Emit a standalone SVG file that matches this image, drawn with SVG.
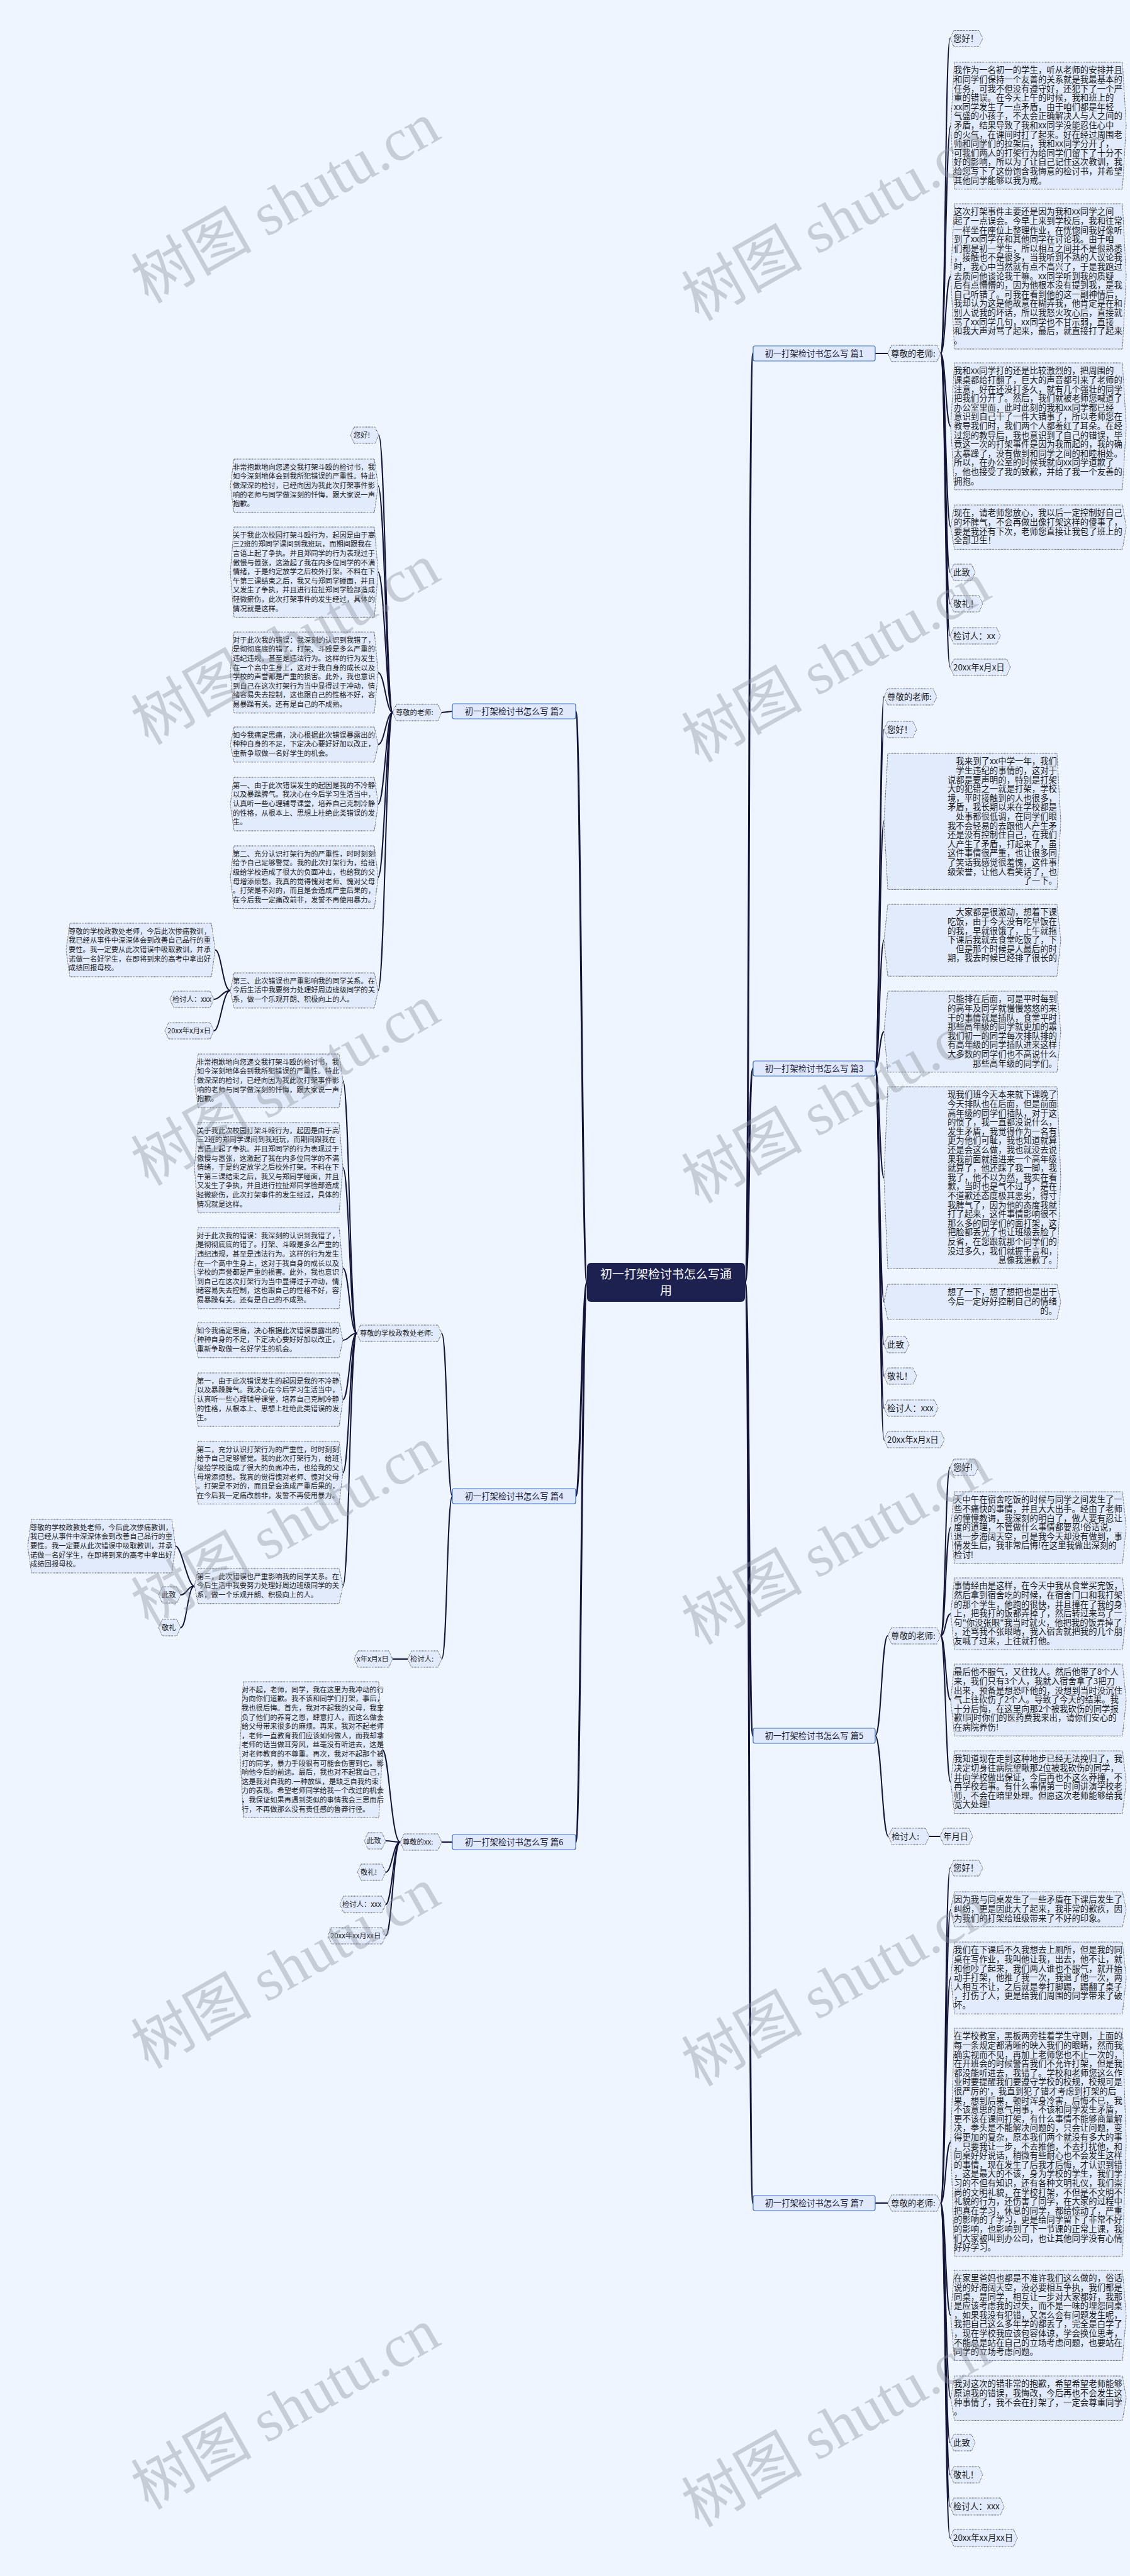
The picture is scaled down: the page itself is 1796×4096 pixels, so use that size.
<svg xmlns="http://www.w3.org/2000/svg" width="1796" height="4096" viewBox="0 0 1796 4096">
<style>
.hx{fill:#e1ebfc;stroke:#333;stroke-width:0.9;stroke-dasharray:1.2 1.2}
.t{font-family:"Noto Sans CJK SC","Noto Sans",sans-serif;font-size:11.3px;fill:#222}
.tr{font-family:"Noto Sans CJK SC","Noto Sans",sans-serif;font-size:13.4px;fill:#1c1c1c}
.ln{fill:none;stroke:#14143a;stroke-width:2;stroke-linecap:round}
.lr{fill:none;stroke:#14143a;stroke-width:3;stroke-linecap:round}
.br{fill:#dfe9fb;stroke:#3b72c6;stroke-width:1.2}
.bt{font-family:"Noto Sans CJK SC","Noto Sans",sans-serif;font-size:13.3px;fill:#1a1a3a}
.wm{font-family:"Liberation Serif","Noto Sans CJK SC",serif;font-size:96px;fill:#8d939c;opacity:0.4}
</style>
<rect width="1796" height="4096" fill="#eef5fe"/>

<g id="connectors">
<path class="lr" d="M1184,2039 C1192,2039 1189,562 1197,562"/>
<path class="lr" d="M1184,2039 C1192,2039 1189,1699 1197,1699"/>
<path class="lr" d="M1184,2039 C1192,2039 1189,2760 1197,2760"/>
<path class="lr" d="M1184,2039 C1192,2039 1189,3503 1197,3503"/>
<path class="lr" d="M933,2039 C925,2039 923,1131 915,1131"/>
<path class="lr" d="M933,2039 C925,2039 923,2379 915,2379"/>
<path class="lr" d="M933,2039 C925,2039 923,2929 915,2929"/>
<path class="ln" d="M1391,562 L1411,562"/>
<path class="ln" d="M1495,562 C1503,562 1502,61 1510,61"/>
<path class="ln" d="M1495,562 C1503,562 1503,199.9 1511,199.9"/>
<path class="ln" d="M1495,562 C1503,562 1503,439.5 1511,439.5"/>
<path class="ln" d="M1495,562 C1503,562 1503,677.9 1511,677.9"/>
<path class="ln" d="M1495,562 C1503,562 1503,838.2 1511,838.2"/>
<path class="ln" d="M1495,562 C1503,562 1502,910 1510,910"/>
<path class="ln" d="M1495,562 C1503,562 1502,960 1510,960"/>
<path class="ln" d="M1495,562 C1503,562 1502,1011 1510,1011"/>
<path class="ln" d="M1495,562 C1503,562 1502,1061 1510,1061"/>
<path class="ln" d="M1391,1699 C1398,1699 1398,1108 1405,1108"/>
<path class="ln" d="M1391,1699 C1398,1699 1398,1160 1405,1160"/>
<path class="ln" d="M1391,1699 C1398,1699 1398,1306.2 1405,1306.2"/>
<path class="ln" d="M1391,1699 C1398,1699 1398,1495.1 1405,1495.1"/>
<path class="ln" d="M1391,1699 C1398,1699 1398,1640.4 1405,1640.4"/>
<path class="ln" d="M1391,1699 C1398,1699 1398,1872.7 1405,1872.7"/>
<path class="ln" d="M1391,1699 C1398,1699 1398,2069.9 1405,2069.9"/>
<path class="ln" d="M1391,1699 C1398,1699 1398,2138 1405,2138"/>
<path class="ln" d="M1391,1699 C1398,1699 1398,2188 1405,2188"/>
<path class="ln" d="M1391,1699 C1398,1699 1398,2239 1405,2239"/>
<path class="ln" d="M1391,1699 C1398,1699 1398,2289 1405,2289"/>
<path class="ln" d="M1391,2760 C1401,2760 1401,2601 1411,2601"/>
<path class="ln" d="M1391,2760 C1401,2760 1402,2920 1412,2920"/>
<path class="ln" d="M1495,2601 C1503,2601 1502,2333 1510,2333"/>
<path class="ln" d="M1495,2601 C1503,2601 1503,2429 1511,2429"/>
<path class="ln" d="M1495,2601 C1503,2601 1503,2566 1511,2566"/>
<path class="ln" d="M1495,2601 C1503,2601 1503,2703 1511,2703"/>
<path class="ln" d="M1495,2601 C1503,2601 1503,2833.8 1511,2833.8"/>
<path class="ln" d="M1477,2920 L1494,2920"/>
<path class="ln" d="M1391,3503 L1411,3503"/>
<path class="ln" d="M1495,3503 C1503,3503 1502,2970.5 1510,2970.5"/>
<path class="ln" d="M1495,3503 C1503,3503 1503,3035.9 1511,3035.9"/>
<path class="ln" d="M1495,3503 C1503,3503 1503,3145 1511,3145"/>
<path class="ln" d="M1495,3503 C1503,3503 1503,3406 1511,3406"/>
<path class="ln" d="M1495,3503 C1503,3503 1503,3681.7 1511,3681.7"/>
<path class="ln" d="M1495,3503 C1503,3503 1503,3813 1511,3813"/>
<path class="ln" d="M1495,3503 C1503,3503 1502,3884 1510,3884"/>
<path class="ln" d="M1495,3503 C1503,3503 1502,3935 1510,3935"/>
<path class="ln" d="M1495,3503 C1503,3503 1502,3985.5 1510,3985.5"/>
<path class="ln" d="M1495,3503 C1503,3503 1502,4035.5 1510,4035.5"/>
<path class="ln" d="M719,1131 L702,1133"/>
<path class="ln" d="M624,1133 C614,1133 612,692 602,692"/>
<path class="ln" d="M624,1133 C614,1133 611,772.5 601,772.5"/>
<path class="ln" d="M624,1133 C614,1133 611,909.7 601,909.7"/>
<path class="ln" d="M624,1133 C614,1133 611,1069.4 601,1069.4"/>
<path class="ln" d="M624,1133 C614,1133 611,1183.9 601,1183.9"/>
<path class="ln" d="M624,1133 C614,1133 611,1278.5 601,1278.5"/>
<path class="ln" d="M624,1133 C614,1133 611,1394.8 601,1394.8"/>
<path class="ln" d="M624,1133 C614,1133 611,1574.9 601,1574.9"/>
<path class="ln" d="M366,1575 C354,1575 352,1510.5 342,1510.5"/>
<path class="ln" d="M366,1575 C354,1575 350,1589 340,1589"/>
<path class="ln" d="M366,1575 C354,1575 350,1639 340,1639"/>
<path class="ln" d="M719,2379 C710,2379 711,2120 702,2120"/>
<path class="ln" d="M719,2379 C710,2379 711,2638 702,2638"/>
<path class="ln" d="M567,2120 C556,2120 555,1718.5 545,1718.5"/>
<path class="ln" d="M567,2120 C556,2120 555,1856.7 545,1856.7"/>
<path class="ln" d="M567,2120 C556,2120 555,2016.4 545,2016.4"/>
<path class="ln" d="M567,2120 C556,2120 555,2130.9 545,2130.9"/>
<path class="ln" d="M567,2120 C556,2120 555,2225.5 545,2225.5"/>
<path class="ln" d="M567,2120 C556,2120 555,2341.8 545,2341.8"/>
<path class="ln" d="M567,2120 C556,2120 555,2521.9 545,2521.9"/>
<path class="ln" d="M309,2522 C298,2522 289,2458.5 279,2458.5"/>
<path class="ln" d="M309,2522 C298,2522 297,2536 287,2536"/>
<path class="ln" d="M309,2522 C298,2522 297,2588 287,2588"/>
<path class="ln" d="M648,2638 L624,2638"/>
<path class="ln" d="M719,2929 L702,2929"/>
<path class="ln" d="M636,2929 C622,2929 618,2782.2 608,2782.2"/>
<path class="ln" d="M636,2929 C625,2929 623,2927 613,2927"/>
<path class="ln" d="M636,2929 C625,2929 623,2977 613,2977"/>
<path class="ln" d="M636,2929 C625,2929 623,3028 613,3028"/>
<path class="ln" d="M636,2929 C625,2929 623,3078 613,3078"/>
</g>

<g id="root">
<rect x="933" y="2008" width="251" height="62" rx="6" fill="#1d2150"/>
<text x="1058.5" y="2033" text-anchor="middle" font-family="Noto Sans CJK SC, sans-serif" font-size="19" fill="#fff">初一打架检讨书怎么写通</text>
<text x="1058.5" y="2059" text-anchor="middle" font-family="Noto Sans CJK SC, sans-serif" font-size="19" fill="#fff">用</text>
</g>

<g id="b1"><rect class="br" x="1197" y="550" width="194" height="24" rx="3"/><text class="bt" x="1294" y="567" text-anchor="middle">初一打架检讨书怎么写 篇1</text></g>
<g id="b3"><rect class="br" x="1197" y="1687" width="194" height="24" rx="3"/><text class="bt" x="1294" y="1704" text-anchor="middle">初一打架检讨书怎么写 篇3</text></g>
<g id="b5"><rect class="br" x="1197" y="2748" width="194" height="24" rx="3"/><text class="bt" x="1294" y="2765" text-anchor="middle">初一打架检讨书怎么写 篇5</text></g>
<g id="b7"><rect class="br" x="1197" y="3491" width="194" height="24" rx="3"/><text class="bt" x="1294" y="3508" text-anchor="middle">初一打架检讨书怎么写 篇7</text></g>
<g id="b2"><rect class="br" x="719" y="1119" width="196" height="24" rx="3"/><text class="bt" x="817" y="1136" text-anchor="middle">初一打架检讨书怎么写 篇2</text></g>
<g id="b4"><rect class="br" x="719" y="2367" width="196" height="24" rx="3"/><text class="bt" x="817" y="2384" text-anchor="middle">初一打架检讨书怎么写 篇4</text></g>
<g id="b6"><rect class="br" x="719" y="2917" width="196" height="24" rx="3"/><text class="bt" x="817" y="2934" text-anchor="middle">初一打架检讨书怎么写 篇6</text></g>

<!-- 篇1 -->
<g id="p1-dear"><path class="hx" d="M1417,549H1489L1495,562L1489,575H1417L1411,562Z"/><text class="tr" x="1416" y="566.7">尊敬的老师:</text></g>
<g id="p1-hi"><path class="hx" d="M1516,48.5H1556L1562,61L1556,73.5H1516L1510,61Z"/><text class="tr" x="1515" y="65.7">您好！</text></g>
<g id="p1-a"><path class="hx" d="M1517,99H1784L1790,199.9L1784,300.8H1517L1511,199.9Z"/>
<text class="tr" y="116.3"><tspan x="1516">我作为一名初一的学生，听从老师的安排并且</tspan><tspan x="1516" dy="14.6">和同学们保持一个友善的关系就是我最基本的</tspan><tspan x="1516" dy="14.6">任务，可我不但没有遵守好，还犯下了一个严</tspan><tspan x="1516" dy="14.6">重的错误。在今天上午的时候，我和班上的</tspan><tspan x="1516" dy="14.6">xx同学发生了一点矛盾，由于咱们都是年轻</tspan><tspan x="1516" dy="14.6">气盛的小孩子，不太会正确解决人与人之间的</tspan><tspan x="1516" dy="14.6">矛盾，结果导致了我和xx同学没能忍住心中</tspan><tspan x="1516" dy="14.6">的火气，在课间时打了起来。好在经过周围老</tspan><tspan x="1516" dy="14.6">师和同学们的拉架后，我和xx同学分开了，</tspan><tspan x="1516" dy="14.6">可我们两人的打架行为给同学们留下了十分不</tspan><tspan x="1516" dy="14.6">好的影响，所以为了让自己记住这次教训，我</tspan><tspan x="1516" dy="14.6">给您写下了这份饱含我悔意的检讨书，并希望</tspan><tspan x="1516" dy="14.6">其他同学能够以我为戒。</tspan></text></g>
<g id="p1-b"><path class="hx" d="M1517,324H1784L1790,439.5L1784,555H1517L1511,439.5Z"/>
<text class="tr" y="341.3"><tspan x="1516">这次打架事件主要还是因为我和xx同学之间</tspan><tspan x="1516" dy="14.6">起了一点误会。今早上来到学校后，我和往常</tspan><tspan x="1516" dy="14.6">一样坐在座位上整理作业，在恍惚间我好像听</tspan><tspan x="1516" dy="14.6">到了xx同学在和其他同学在讨论我。由于咱</tspan><tspan x="1516" dy="14.6">们都是初一学生，所以相互之间并不是很熟悉</tspan><tspan x="1516" dy="14.6">，接触也不是很多，当我听到不熟的人议论我</tspan><tspan x="1516" dy="14.6">时，我心中当然就有点不高兴了，于是我跑过</tspan><tspan x="1516" dy="14.6">去质问他谈论我干嘛。xx同学听到我的质疑</tspan><tspan x="1516" dy="14.6">后有点懵懵的，因为他根本没有提到我，是我</tspan><tspan x="1516" dy="14.6">自己听错了。可我在看到他的这一副神情后，</tspan><tspan x="1516" dy="14.6">我却认为这是他故意在糊弄我，他肯定是在和</tspan><tspan x="1516" dy="14.6">别人说我的坏话，所以我怒火攻心后，直接就</tspan><tspan x="1516" dy="14.6">骂了xx同学几句，xx同学也不甘示弱，直接</tspan><tspan x="1516" dy="14.6">和我大声对骂了起来，最后，就直接打了起来</tspan><tspan x="1516" dy="14.6">。</tspan></text></g>
<g id="p1-c"><path class="hx" d="M1517,577H1784L1790,677.9L1784,778.8H1517L1511,677.9Z"/>
<text class="tr" y="594.3"><tspan x="1516">我和xx同学打的还是比较激烈的，把周围的</tspan><tspan x="1516" dy="14.6">课桌都给打翻了，巨大的声音都引来了老师的</tspan><tspan x="1516" dy="14.6">注意，好在还没打多久，就有几个强壮的同学</tspan><tspan x="1516" dy="14.6">把我们分开了。然后，我们就被老师您喊道了</tspan><tspan x="1516" dy="14.6">办公室里面，此时此刻的我和xx同学都已经</tspan><tspan x="1516" dy="14.6">意识到自己干了一件大错事了，所以老师您在</tspan><tspan x="1516" dy="14.6">教导我们时，我们两个人都羞红了耳朵。在经</tspan><tspan x="1516" dy="14.6">过您的教导后，我也意识到了自己的错误，毕</tspan><tspan x="1516" dy="14.6">竟这一次的打架事件是因为我而起的，我的确</tspan><tspan x="1516" dy="14.6">太暴躁了，没有做到和同学之间的和睦相处。</tspan><tspan x="1516" dy="14.6">所以，在办公室的时候我就向xx同学道歉了</tspan><tspan x="1516" dy="14.6">，他也接受了我的致歉，并给了我一个友善的</tspan><tspan x="1516" dy="14.6">拥抱。</tspan></text></g>
<g id="p1-d"><path class="hx" d="M1517,803H1784L1790,838.2L1784,873.4H1517L1511,838.2Z"/>
<text class="tr" y="820.3"><tspan x="1516">现在，请老师您放心，我以后一定控制好自己</tspan><tspan x="1516" dy="14.6">的坏脾气，不会再做出像打架这样的傻事了，</tspan><tspan x="1516" dy="14.6">要是我还有下次，老师您直接让我包了班上的</tspan><tspan x="1516" dy="14.6">全部卫生！</tspan></text></g>
<g id="p1-e"><path class="hx" d="M1516,897H1544L1550,910L1544,923H1516L1510,910Z"/><text class="tr" x="1515" y="914.7">此致</text></g>
<g id="p1-f"><path class="hx" d="M1516,947H1556L1562,960L1556,973H1516L1510,960Z"/><text class="tr" x="1515" y="964.7">敬礼！</text></g>
<g id="p1-g"><path class="hx" d="M1516,998H1584L1590,1011L1584,1024H1516L1510,1011Z"/><text class="tr" x="1515" y="1015.7">检讨人：xx</text></g>
<g id="p1-h"><path class="hx" d="M1516,1048H1600L1606,1061L1600,1074H1516L1510,1061Z"/><text class="tr" x="1515" y="1065.7">20xx年x月x日</text></g>

<!-- 篇3 -->
<g id="p3-dear"><path class="hx" d="M1411,1095H1483L1489,1108L1483,1121H1411L1405,1108Z"/><text class="tr" x="1410" y="1112.7">尊敬的老师:</text></g>
<g id="p3-hi"><path class="hx" d="M1411,1147H1451L1457,1160L1451,1173H1411L1405,1160Z"/><text class="tr" x="1410" y="1164.7">您好！</text></g>
<g id="p3-a"><path class="hx" d="M1411,1198H1680L1686,1306.2L1680,1414.4H1411L1405,1306.2Z"/>
<text class="tr" y="1215.3" text-anchor="end"><tspan x="1680">我来到了xx中学一年，我们</tspan><tspan x="1680" dy="14.6">学生违纪的事情的，这对于</tspan><tspan x="1680" dy="14.6">说都是要声明的，特别是打架</tspan><tspan x="1680" dy="14.6">大的犯错之一就是打架，学校</tspan><tspan x="1680" dy="14.6">境，平时接触到的人也很多，</tspan><tspan x="1680" dy="14.6">矛盾，我长期以来在学校都是</tspan><tspan x="1680" dy="14.6">处事都很低调，在同学们眼</tspan><tspan x="1680" dy="14.6">我不会轻易的去跟他人产生矛</tspan><tspan x="1680" dy="14.6">还是没有控制住自己，在我们</tspan><tspan x="1680" dy="14.6">人产生了矛盾，打起来了，虽</tspan><tspan x="1680" dy="14.6">这件事情很严重，也让很多同</tspan><tspan x="1680" dy="14.6">了笑话我感觉很羞愧，这件事</tspan><tspan x="1680" dy="14.6">级荣誉，让他人看笑话了，也</tspan><tspan x="1680" dy="14.6">了一下。</tspan></text></g>
<g id="p3-b"><path class="hx" d="M1411,1438H1680L1686,1495.1L1680,1552.2H1411L1405,1495.1Z"/>
<text class="tr" y="1455.3" text-anchor="end"><tspan x="1680">大家都是很激动，想着下课</tspan><tspan x="1680" dy="14.6">吃饭，由于今天没有吃早饭在</tspan><tspan x="1680" dy="14.6">的我，早就很饿了，上午就拖</tspan><tspan x="1680" dy="14.6">下课后我就去食堂吃饭了，下</tspan><tspan x="1680" dy="14.6">但是那个时候是人最后的时</tspan><tspan x="1680" dy="14.6">期，我去时候已经排了很长的</tspan></text></g>
<g id="p3-c"><path class="hx" d="M1411,1576H1680L1686,1640.4L1680,1704.8H1411L1405,1640.4Z"/>
<text class="tr" y="1593.3" text-anchor="end"><tspan x="1680">只能排在后面，可是平时每到</tspan><tspan x="1680" dy="14.6">的高年及同学就慢慢悠悠的来</tspan><tspan x="1680" dy="14.6">干的事情就是插队，食堂平时</tspan><tspan x="1680" dy="14.6">那些高年级的同学就更加的嚣</tspan><tspan x="1680" dy="14.6">我们初一的同学每次排队排的</tspan><tspan x="1680" dy="14.6">有高年级的同学插队进来这样</tspan><tspan x="1680" dy="14.6">大多数的同学们也不高说什么</tspan><tspan x="1680" dy="14.6">那些高年级的同学们。</tspan></text></g>
<g id="p3-d"><path class="hx" d="M1411,1728H1680L1686,1872.7L1680,2017.4H1411L1405,1872.7Z"/>
<text class="tr" y="1745.3" text-anchor="end"><tspan x="1680">现我们班今天本来就下课晚了</tspan><tspan x="1680" dy="14.6">今天排队也在后面，但是前面</tspan><tspan x="1680" dy="14.6">高年级的同学们插队，对于这</tspan><tspan x="1680" dy="14.6">的惯了，我一直都没说什么，</tspan><tspan x="1680" dy="14.6">发生矛盾，我觉得作为一名有</tspan><tspan x="1680" dy="14.6">更为他们可耻，我也知道就算</tspan><tspan x="1680" dy="14.6">还是会这么做，我也就没去说</tspan><tspan x="1680" dy="14.6">果我前面就插进来一个高年级</tspan><tspan x="1680" dy="14.6">就算了，他还踩了我一脚，我</tspan><tspan x="1680" dy="14.6">我了，他不以为然，我实在看</tspan><tspan x="1680" dy="14.6">歉，当时也是气不过了，是在</tspan><tspan x="1680" dy="14.6">不道歉还态度极其恶劣，得寸</tspan><tspan x="1680" dy="14.6">我脾气了，因为他的态度我就</tspan><tspan x="1680" dy="14.6">打了起来，这件事情影响很不</tspan><tspan x="1680" dy="14.6">那么多的同学们的面打架，这</tspan><tspan x="1680" dy="14.6">把脸都丢光了也让班级丢脸了</tspan><tspan x="1680" dy="14.6">反省，在您跟就那个同学们的</tspan><tspan x="1680" dy="14.6">没过多久，我们就握手言和，</tspan><tspan x="1680" dy="14.6">息像我道歉了。</tspan></text></g>
<g id="p3-e"><path class="hx" d="M1411,2042H1680L1686,2069.9L1680,2097.8H1411L1405,2069.9Z"/>
<text class="tr" y="2059.3" text-anchor="end"><tspan x="1680">想了一下，想了想把也是出于</tspan><tspan x="1680" dy="14.6">今后一定好好控制自己的情绪</tspan><tspan x="1680" dy="14.6">的。</tspan></text></g>
<g id="p3-f"><path class="hx" d="M1411,2125H1439L1445,2138L1439,2151H1411L1405,2138Z"/><text class="tr" x="1410" y="2142.7">此致</text></g>
<g id="p3-g"><path class="hx" d="M1411,2175H1451L1457,2188L1451,2201H1411L1405,2188Z"/><text class="tr" x="1410" y="2192.7">敬礼！</text></g>
<g id="p3-h"><path class="hx" d="M1411,2226H1485L1491,2239L1485,2252H1411L1405,2239Z"/><text class="tr" x="1410" y="2243.7">检讨人：xxx</text></g>
<g id="p3-i"><path class="hx" d="M1411,2276H1495L1501,2289L1495,2302H1411L1405,2289Z"/><text class="tr" x="1410" y="2293.7">20xx年x月x日</text></g>

<!-- 篇5 -->
<g id="p5-dear"><path class="hx" d="M1417,2588H1489L1495,2601L1489,2614H1417L1411,2601Z"/><text class="tr" x="1416" y="2605.7">尊敬的老师:</text></g>
<g id="p5-hi"><path class="hx" d="M1516,2320H1549L1555,2333L1549,2346H1516L1510,2333Z"/><text class="tr" x="1515" y="2337.7">您好!</text></g>
<g id="p5-a"><path class="hx" d="M1517,2372H1784L1790,2429L1784,2486.2H1517L1511,2429Z"/>
<text class="tr" y="2389.3"><tspan x="1516">天中午在宿舍吃饭的时候与同学之间发生了一</tspan><tspan x="1516" dy="14.6">些不痛快的事情，并且大大出手。经由了老师</tspan><tspan x="1516" dy="14.6">的憧憧教诲，我深刻的明白了，做人要有忍让</tspan><tspan x="1516" dy="14.6">度的道理，不管做什么事情都要忍!俗话说，</tspan><tspan x="1516" dy="14.6">退一步海阔天空，可是我今天却没有做到，事</tspan><tspan x="1516" dy="14.6">情发生后，我非常后悔!在这里我做出深刻的</tspan><tspan x="1516" dy="14.6">检讨!</tspan></text></g>
<g id="p5-b"><path class="hx" d="M1517,2509H1784L1790,2566L1784,2623.2H1517L1511,2566Z"/>
<text class="tr" y="2526.3"><tspan x="1516">事情经由是这样，在今天中我从食堂买完饭，</tspan><tspan x="1516" dy="14.6">然后拿到宿舍吃的时候，在宿舍门口和我打架</tspan><tspan x="1516" dy="14.6">的那个学生，他跑的很快，并且撞在了我的身</tspan><tspan x="1516" dy="14.6">上，把我打的饭都弄掉了，然后转过来骂了一</tspan><tspan x="1516" dy="14.6">句"你没张眼"我当时就火，他把我的饭弄掉了</tspan><tspan x="1516" dy="14.6">，还骂我不张眼睛，我入宿舍就把我的几个朋</tspan><tspan x="1516" dy="14.6">友喊了过来，上往就打他。</tspan></text></g>
<g id="p5-c"><path class="hx" d="M1517,2646H1784L1790,2703L1784,2760.2H1517L1511,2703Z"/>
<text class="tr" y="2663.3"><tspan x="1516">最后他不服气，又往找人。然后他带了8个人</tspan><tspan x="1516" dy="14.6">来，我们只有3个人，我就入宿舍拿了3把刀</tspan><tspan x="1516" dy="14.6">出来，预备是想恐吓他的，没想到当时没沉住</tspan><tspan x="1516" dy="14.6">气上往砍伤了2个人。导致了今天的结果。我</tspan><tspan x="1516" dy="14.6">十分后悔，在这里向那2个被我砍伤的同学报</tspan><tspan x="1516" dy="14.6">歉!同时你们的医药费我来出，请你们安心的</tspan><tspan x="1516" dy="14.6">在病院养伤!</tspan></text></g>
<g id="p5-d"><path class="hx" d="M1517,2784H1784L1790,2833.8L1784,2883.6H1517L1511,2833.8Z"/>
<text class="tr" y="2801.3"><tspan x="1516">我知道现在走到这种地步已经无法挽归了，我</tspan><tspan x="1516" dy="14.6">决定切身往病院望瞅那2位被我砍伤的同学，</tspan><tspan x="1516" dy="14.6">并向学校做出保证，今后再也不这么莽撞，不</tspan><tspan x="1516" dy="14.6">再学校若事。有什么事情第一时间讲演学校老</tspan><tspan x="1516" dy="14.6">师，不会在暗里处理。但愿这次老师能够给我</tspan><tspan x="1516" dy="14.6">宽大处理!</tspan></text></g>
<g id="p5-e"><path class="hx" d="M1418,2907H1471L1477,2920L1471,2933H1418L1412,2920Z"/><text class="tr" x="1417" y="2924.7">检讨人:</text></g>
<g id="p5-f"><path class="hx" d="M1500,2907H1540L1546,2920L1540,2933H1500L1494,2920Z"/><text class="tr" x="1499" y="2924.7">年月日</text></g>

<!-- 篇7 -->
<g id="p7-dear"><path class="hx" d="M1417,3490H1489L1495,3503L1489,3516H1417L1411,3503Z"/><text class="tr" x="1416" y="3507.7">尊敬的老师:</text></g>
<g id="p7-hi"><path class="hx" d="M1516,2958H1556L1562,2970.5L1556,2983H1516L1510,2970.5Z"/><text class="tr" x="1515" y="2975.2">您好！</text></g>
<g id="p7-a"><path class="hx" d="M1517,3008H1784L1790,3035.9L1784,3063.8H1517L1511,3035.9Z"/>
<text class="tr" y="3025.3"><tspan x="1516">因为我与同桌发生了一些矛盾在下课后发生了</tspan><tspan x="1516" dy="14.6">纠纷，更是因此大了起来，我非常的歉疚，因</tspan><tspan x="1516" dy="14.6">为我们的打架给班级带来了不好的印象。</tspan></text></g>
<g id="p7-b"><path class="hx" d="M1517,3088H1784L1790,3145L1784,3202.2H1517L1511,3145Z"/>
<text class="tr" y="3105.3"><tspan x="1516">我们在下课后不久我想去上厕所，但是我的同</tspan><tspan x="1516" dy="14.6">桌在写作业，我叫他让我，出去，他不让，就</tspan><tspan x="1516" dy="14.6">和他吵了起来，我们两人谁也不服气，就开始</tspan><tspan x="1516" dy="14.6">动手打架，他推了我一次，我退了他一次，两</tspan><tspan x="1516" dy="14.6">人相互不让，之后就是拳打脚踢，踢翻了桌子</tspan><tspan x="1516" dy="14.6">，打伤了人，更是给我们周围的同学带来了破</tspan><tspan x="1516" dy="14.6">坏。</tspan></text></g>
<g id="p7-c"><path class="hx" d="M1517,3225H1784L1790,3406L1784,3587.4H1517L1511,3406Z"/>
<text class="tr" y="3242.3"><tspan x="1516">在学校教室，黑板两旁挂着学生守则，上面的</tspan><tspan x="1516" dy="14.6">每一条规定都清晰的映入我们的眼睛，然而我</tspan><tspan x="1516" dy="14.6">确实视而不见，再加上老师您也不止一次的，</tspan><tspan x="1516" dy="14.6">在开班会的时候警告我们不允许打架，但是我</tspan><tspan x="1516" dy="14.6">都没能听进去，我错了。学校和老师您这么作</tspan><tspan x="1516" dy="14.6">业时要提醒我们要遵守学校的校规，校规可是</tspan><tspan x="1516" dy="14.6">很严厉的'，我直到犯了错才考虑到打架的后</tspan><tspan x="1516" dy="14.6">果，想到后果，顿时浑身冷害，后悔不已，我</tspan><tspan x="1516" dy="14.6">不该意思的意气用事，不该和同学发生矛盾，</tspan><tspan x="1516" dy="14.6">更不该在课间打架，有什么事情不能够商量解</tspan><tspan x="1516" dy="14.6">决，拳头是不能解决问题的，只会让问题，变</tspan><tspan x="1516" dy="14.6">得更加的复杂，原本我们两个就没有多大的事</tspan><tspan x="1516" dy="14.6">，只要我让一步，不去推他，不去打扰他，和</tspan><tspan x="1516" dy="14.6">同桌好好说话，稍微有些耐心也不会发生这样</tspan><tspan x="1516" dy="14.6">的事情，现在发生了后我才后悔，才认识到错</tspan><tspan x="1516" dy="14.6">，这是最大的不该，身为学校的学生，我们学</tspan><tspan x="1516" dy="14.6">习的不但有知识，还有各种文明礼仪，我们崇</tspan><tspan x="1516" dy="14.6">尚的文明礼貌，在学校打架，不但是不文明不</tspan><tspan x="1516" dy="14.6">礼貌的行为，还伤害了同学，在大家的过程中</tspan><tspan x="1516" dy="14.6">把真在学习，休息的同学，都给惊动了，严重</tspan><tspan x="1516" dy="14.6">的影响的了学习，更是给同学留下了非常不好</tspan><tspan x="1516" dy="14.6">的影响，也影响到了下一节课的正常上课，我</tspan><tspan x="1516" dy="14.6">们大家被叫到办公司，也让其他同学没有心情</tspan><tspan x="1516" dy="14.6">好好学习。</tspan></text></g>
<g id="p7-d"><path class="hx" d="M1517,3610H1784L1790,3681.7L1784,3753.4H1517L1511,3681.7Z"/>
<text class="tr" y="3627.3"><tspan x="1516">在家里爸妈也都是不准许我们这么做的，俗话</tspan><tspan x="1516" dy="14.6">说的好海阔天空，没必要相互争执，我们都是</tspan><tspan x="1516" dy="14.6">同桌，是同学，相互让一步对大家都好，我那</tspan><tspan x="1516" dy="14.6">是应该考虑我的过失，而不是一味的埋怨同桌</tspan><tspan x="1516" dy="14.6">，如果我没有犯错，又怎么会有问题发生呢，</tspan><tspan x="1516" dy="14.6">我把自己这么多年学的都丢了，完全是白学了</tspan><tspan x="1516" dy="14.6">，现在学校我应该包容体谅，学会换位思考，</tspan><tspan x="1516" dy="14.6">不能总是站在自己的立场考虑问题，也要站在</tspan><tspan x="1516" dy="14.6">同学的立场考虑问题。</tspan></text></g>
<g id="p7-e"><path class="hx" d="M1517,3778H1784L1790,3813L1784,3848.4H1517L1511,3813Z"/>
<text class="tr" y="3795.3"><tspan x="1516">我对这次的错非常的抱歉，希望希望老师能够</tspan><tspan x="1516" dy="14.6">原谅我的错误，我悔改，今后再也不会发生这</tspan><tspan x="1516" dy="14.6">种事情了，我不会在打架了，一定会尊重同学</tspan><tspan x="1516" dy="14.6">。</tspan></text></g>
<g id="p7-f"><path class="hx" d="M1516,3871H1544L1550,3884L1544,3897H1516L1510,3884Z"/><text class="tr" x="1515" y="3888.7">此致</text></g>
<g id="p7-g"><path class="hx" d="M1516,3922H1556L1562,3935L1556,3948H1516L1510,3935Z"/><text class="tr" x="1515" y="3939.7">敬礼！</text></g>
<g id="p7-h"><path class="hx" d="M1516,3972H1590L1596,3985.5L1590,3999H1516L1510,3985.5Z"/><text class="tr" x="1515" y="3990.2">检讨人：xxx</text></g>
<g id="p7-i"><path class="hx" d="M1516,4022H1611L1617,4035.5L1611,4049H1516L1510,4035.5Z"/><text class="tr" x="1515" y="4040.2">20xx年xx月xx日</text></g>

<!-- 篇2 -->
<g id="p2-dear"><path class="hx" d="M630,1120H696L702,1133L696,1146H630L624,1133Z"/><text class="t" x="629" y="1137">尊敬的老师:</text></g>
<g id="p2-hi"><path class="hx" d="M563,679H596L602,692L596,705H563L557,692Z"/><text class="t" x="562" y="696">您好!</text></g>
<g id="p2-a"><path class="hx" d="M372,730H595L601,772.5L595,815H372L366,772.5Z"/>
<text class="t" y="746.8"><tspan x="370">非常抱歉地向您递交我打架斗殴的检讨书，我</tspan><tspan x="370" dy="14.6">如今深刻地体会到我所犯错误的严重性。特此</tspan><tspan x="370" dy="14.6">做深深的检讨，已经向因为我此次打架事件影</tspan><tspan x="370" dy="14.6">响的老师与同学做深刻的忏悔，跟大家说一声</tspan><tspan x="370" dy="14.6">抱歉。</tspan></text></g>
<g id="p2-b"><path class="hx" d="M372,838H595L601,909.7L595,981.4H372L366,909.7Z"/>
<text class="t" y="854.8"><tspan x="370">关于我此次校园打架斗殴行为，起因是由于高</tspan><tspan x="370" dy="14.6">三2班的郑同学课间到我班玩，而期间跟我在</tspan><tspan x="370" dy="14.6">言语上起了争执。并且郑同学的行为表现过于</tspan><tspan x="370" dy="14.6">傲慢与嚣张，这激起了我在内多位同学的不满</tspan><tspan x="370" dy="14.6">情绪，于是约定放学之后校外打架。不料在下</tspan><tspan x="370" dy="14.6">午第三课结束之后，我又与郑同学碰面，并且</tspan><tspan x="370" dy="14.6">又发生了争执，并且进行拉扯郑同学脸部造成</tspan><tspan x="370" dy="14.6">轻微瘀伤，此次打架事件的发生经过，具体的</tspan><tspan x="370" dy="14.6">情况就是这样。</tspan></text></g>
<g id="p2-c"><path class="hx" d="M372,1005H595L601,1069.4L595,1133.8H372L366,1069.4Z"/>
<text class="t" y="1021.8"><tspan x="370">对于此次我的错误：我深刻的认识到我错了，</tspan><tspan x="370" dy="14.6">是彻彻底底的错了。打架、斗殴是多么严重的</tspan><tspan x="370" dy="14.6">违纪违规，甚至是违法行为。这样的行为发生</tspan><tspan x="370" dy="14.6">在一个高中生身上，这对于我自身的成长以及</tspan><tspan x="370" dy="14.6">学校的声誉都是严重的损害。此外，我也意识</tspan><tspan x="370" dy="14.6">到自己在这次打架行为当中显得过于冲动，情</tspan><tspan x="370" dy="14.6">绪容易失去控制，这也跟自己的性格不好，容</tspan><tspan x="370" dy="14.6">易暴躁有关。还有是自己的不成熟。</tspan></text></g>
<g id="p2-d"><path class="hx" d="M372,1156H595L601,1183.9L595,1211.8H372L366,1183.9Z"/>
<text class="t" y="1172.8"><tspan x="370">如今我痛定思痛，决心根据此次错误暴露出的</tspan><tspan x="370" dy="14.6">种种自身的不足，下定决心要好好加以改正，</tspan><tspan x="370" dy="14.6">重新争取做一名好学生的机会。</tspan></text></g>
<g id="p2-e"><path class="hx" d="M372,1236H595L601,1278.5L595,1321H372L366,1278.5Z"/>
<text class="t" y="1252.8"><tspan x="370">第一、由于此次错误发生的起因是我的不冷静</tspan><tspan x="370" dy="14.6">以及暴躁脾气。我决心在今后学习生活当中，</tspan><tspan x="370" dy="14.6">认真听一些心理辅导课堂，培养自己克制冷静</tspan><tspan x="370" dy="14.6">的性格，从根本上、思想上杜绝此类错误的发</tspan><tspan x="370" dy="14.6">生。</tspan></text></g>
<g id="p2-f"><path class="hx" d="M372,1345H595L601,1394.8L595,1444.6H372L366,1394.8Z"/>
<text class="t" y="1361.8"><tspan x="370">第二、充分认识打架行为的严重性，时时刻刻</tspan><tspan x="370" dy="14.6">给予自己足够警觉。我的此次打架行为，给班</tspan><tspan x="370" dy="14.6">级给学校造成了很大的负面冲击，也给我的父</tspan><tspan x="370" dy="14.6">母增添烦愁。我真的觉得愧对老师、愧对父母</tspan><tspan x="370" dy="14.6">。打架是不对的，而且是会造成严重后果的，</tspan><tspan x="370" dy="14.6">在今后我一定痛改前非，发誓不再使用暴力。</tspan></text></g>
<g id="p2-g"><path class="hx" d="M372,1547H595L601,1574.9L595,1602.8H372L366,1574.9Z"/>
<text class="t" y="1563.8"><tspan x="370">第三、此次错误也严重影响我的同学关系。在</tspan><tspan x="370" dy="14.6">今后生活中我要努力处理好周边班级同学的关</tspan><tspan x="370" dy="14.6">系，做一个乐观开朗、积极向上的人。</tspan></text></g>
<g id="p2-h"><path class="hx" d="M111,1468H336L342,1510.5L336,1553H111L105,1510.5Z"/>
<text class="t" y="1484.8"><tspan x="109">尊敬的学校政教处老师，今后此次惨痛教训，</tspan><tspan x="109" dy="14.6">我已经从事件中深深体会到改善自己品行的重</tspan><tspan x="109" dy="14.6">要性。我一定要从此次错误中吸取教训，并承</tspan><tspan x="109" dy="14.6">诺做一名好学生，在即将到来的高考中拿出好</tspan><tspan x="109" dy="14.6">成绩回报母校。</tspan></text></g>
<g id="p2-i"><path class="hx" d="M276,1576H334L340,1589L334,1602H276L270,1589Z"/><text class="t" x="274" y="1593">检讨人：xxx</text></g>
<g id="p2-j"><path class="hx" d="M268,1626H334L340,1639L334,1652H268L262,1639Z"/><text class="t" x="266" y="1643">20xx年x月x日</text></g>

<!-- 篇4 -->
<g id="p4-dear"><path class="hx" d="M573,2107H696L702,2120L696,2133H573L567,2120Z"/><text class="t" x="572" y="2124">尊敬的学校政教处老师:</text></g>
<g id="p4-a"><path class="hx" d="M315,1676H539L545,1718.5L539,1761H315L309,1718.5Z"/>
<text class="t" y="1692.8"><tspan x="313">非常抱歉地向您递交我打架斗殴的检讨书，我</tspan><tspan x="313" dy="14.6">如今深刻地体会到我所犯错误的严重性。特此</tspan><tspan x="313" dy="14.6">做深深的检讨，已经向因为我此次打架事件影</tspan><tspan x="313" dy="14.6">响的老师与同学做深刻的忏悔，跟大家说一声</tspan><tspan x="313" dy="14.6">抱歉。</tspan></text></g>
<g id="p4-b"><path class="hx" d="M315,1785H539L545,1856.7L539,1928.4H315L309,1856.7Z"/>
<text class="t" y="1801.8"><tspan x="313">关于我此次校园打架斗殴行为，起因是由于高</tspan><tspan x="313" dy="14.6">三2班的郑同学课间到我班玩，而期间跟我在</tspan><tspan x="313" dy="14.6">言语上起了争执。并且郑同学的行为表现过于</tspan><tspan x="313" dy="14.6">傲慢与嚣张，这激起了我在内多位同学的不满</tspan><tspan x="313" dy="14.6">情绪，于是约定放学之后校外打架。不料在下</tspan><tspan x="313" dy="14.6">午第三课结束之后，我又与郑同学碰面，并且</tspan><tspan x="313" dy="14.6">又发生了争执，并且进行拉扯郑同学脸部造成</tspan><tspan x="313" dy="14.6">轻微瘀伤，此次打架事件的发生经过，具体的</tspan><tspan x="313" dy="14.6">情况就是这样。</tspan></text></g>
<g id="p4-c"><path class="hx" d="M315,1952H539L545,2016.4L539,2080.8H315L309,2016.4Z"/>
<text class="t" y="1968.8"><tspan x="313">对于此次我的错误：我深刻的认识到我错了，</tspan><tspan x="313" dy="14.6">是彻彻底底的错了。打架、斗殴是多么严重的</tspan><tspan x="313" dy="14.6">违纪违规，甚至是违法行为。这样的行为发生</tspan><tspan x="313" dy="14.6">在一个高中生身上，这对于我自身的成长以及</tspan><tspan x="313" dy="14.6">学校的声誉都是严重的损害。此外，我也意识</tspan><tspan x="313" dy="14.6">到自己在这次打架行为当中显得过于冲动，情</tspan><tspan x="313" dy="14.6">绪容易失去控制，这也跟自己的性格不好，容</tspan><tspan x="313" dy="14.6">易暴躁有关。还有是自己的不成熟。</tspan></text></g>
<g id="p4-d"><path class="hx" d="M315,2103H539L545,2130.9L539,2158.8H315L309,2130.9Z"/>
<text class="t" y="2119.8"><tspan x="313">如今我痛定思痛，决心根据此次错误暴露出的</tspan><tspan x="313" dy="14.6">种种自身的不足，下定决心要好好加以改正，</tspan><tspan x="313" dy="14.6">重新争取做一名好学生的机会。</tspan></text></g>
<g id="p4-e"><path class="hx" d="M315,2183H539L545,2225.5L539,2268H315L309,2225.5Z"/>
<text class="t" y="2199.8"><tspan x="313">第一，由于此次错误发生的起因是我的不冷静</tspan><tspan x="313" dy="14.6">以及暴躁脾气。我决心在今后学习生活当中，</tspan><tspan x="313" dy="14.6">认真听一些心理辅导课堂，培养自己克制冷静</tspan><tspan x="313" dy="14.6">的性格，从根本上、思想上杜绝此类错误的发</tspan><tspan x="313" dy="14.6">生。</tspan></text></g>
<g id="p4-f"><path class="hx" d="M315,2292H539L545,2341.8L539,2391.6H315L309,2341.8Z"/>
<text class="t" y="2308.8"><tspan x="313">第二，充分认识打架行为的严重性，时时刻刻</tspan><tspan x="313" dy="14.6">给予自己足够警觉。我的此次打架行为，给班</tspan><tspan x="313" dy="14.6">级给学校造成了很大的负面冲击，也给我的父</tspan><tspan x="313" dy="14.6">母增添烦愁。我真的觉得愧对老师、愧对父母</tspan><tspan x="313" dy="14.6">。打架是不对的，而且是会造成严重后果的，</tspan><tspan x="313" dy="14.6">在今后我一定痛改前非，发誓不再使用暴力。</tspan></text></g>
<g id="p4-g"><path class="hx" d="M315,2494H539L545,2521.9L539,2549.8H315L309,2521.9Z"/>
<text class="t" y="2510.8"><tspan x="313">第三，此次错误也严重影响我的同学关系。在</tspan><tspan x="313" dy="14.6">今后生活中我要努力处理好周边班级同学的关</tspan><tspan x="313" dy="14.6">系，做一个乐观开朗、积极向上的人。</tspan></text></g>
<g id="p4-h"><path class="hx" d="M50,2416H273L279,2458.5L273,2501H50L44,2458.5Z"/>
<text class="t" y="2432.8"><tspan x="48">尊敬的学校政教处老师，今后此次惨痛教训，</tspan><tspan x="48" dy="14.6">我已经从事件中深深体会到改善自己品行的重</tspan><tspan x="48" dy="14.6">要性。我一定要从此次错误中吸取教训，并承</tspan><tspan x="48" dy="14.6">诺做一名好学生，在即将到来的高考中拿出好</tspan><tspan x="48" dy="14.6">成绩回报母校。</tspan></text></g>
<g id="p4-i"><path class="hx" d="M258,2523H281L287,2536L281,2549H258L252,2536Z"/><text class="t" x="257" y="2540">此致</text></g>
<g id="p4-j"><path class="hx" d="M258,2575H281L287,2588L281,2601H258L252,2588Z"/><text class="t" x="257" y="2592">敬礼</text></g>
<g id="p4-k"><path class="hx" d="M654,2625H696L702,2638L696,2651H654L648,2638Z"/><text class="t" x="652" y="2642">检讨人:</text></g>
<g id="p4-l"><path class="hx" d="M569,2625H618L624,2638L618,2651H569L563,2638Z"/><text class="t" x="567" y="2642">x年x月x日</text></g>

<!-- 篇6 -->
<g id="p6-dear"><path class="hx" d="M642,2916H696L702,2929L696,2942H642L636,2929Z"/><text class="t" x="640" y="2933">尊敬的xx:</text></g>
<g id="p6-a"><path class="hx" d="M387,2674H602L608,2782.2L602,2890.4H387L381,2782.2Z"/>
<text class="t" y="2690.8"><tspan x="384">对不起，老师，同学，我在这里为我冲动的行</tspan><tspan x="384" dy="14.6">为向你们道歉。我不该和同学们打架，事后，</tspan><tspan x="384" dy="14.6">我也很后悔。首先，我对不起我的父母，我辜</tspan><tspan x="384" dy="14.6">负了他们的养育之恩，肆意打人，而这么做会</tspan><tspan x="384" dy="14.6">给父母带来很多的麻烦。再来，我对不起老师</tspan><tspan x="384" dy="14.6">，老师一直教育我们应该如何做人，而我却拿</tspan><tspan x="384" dy="14.6">老师的话当做耳旁风，丝毫没有听进去，这是</tspan><tspan x="384" dy="14.6">对老师教育的不尊重。再次，我对不起那个被</tspan><tspan x="384" dy="14.6">打的同学，暴力手段很有可能会伤害到它。影</tspan><tspan x="384" dy="14.6">响他今后的前途。最后，我也对不起我自己，</tspan><tspan x="384" dy="14.6">这是我对自我的.一种放纵，是缺乏自我约束</tspan><tspan x="384" dy="14.6">力的表现。希望老师同学给我一个改过的机会</tspan><tspan x="384" dy="14.6">，我保证如果再遇到类似的事情我会三思而后</tspan><tspan x="384" dy="14.6">行，不再做那么没有责任感的鲁莽行径。</tspan></text></g>
<g id="p6-b"><path class="hx" d="M585,2914H607L613,2927L607,2940H585L579,2927Z"/><text class="t" x="583" y="2931">此致</text></g>
<g id="p6-c"><path class="hx" d="M574,2964H607L613,2977L607,2990H574L568,2977Z"/><text class="t" x="573" y="2981">敬礼!</text></g>
<g id="p6-d"><path class="hx" d="M546,3015H607L613,3028L607,3041H546L540,3028Z"/><text class="t" x="544" y="3032">检讨人：xxx</text></g>
<g id="p6-e"><path class="hx" d="M527,3065H607L613,3078L607,3091H527L521,3078Z"/><text class="t" x="525" y="3082">20xx年xx月xx日</text></g>

<g id="watermarks">
<text class="wm" x="470" y="351" text-anchor="middle" transform="rotate(-29.5 470 351)">树图 shutu.cn</text>
<text class="wm" x="470" y="1053" text-anchor="middle" transform="rotate(-29.5 470 1053)">树图 shutu.cn</text>
<text class="wm" x="470" y="1754" text-anchor="middle" transform="rotate(-29.5 470 1754)">树图 shutu.cn</text>
<text class="wm" x="470" y="2456" text-anchor="middle" transform="rotate(-29.5 470 2456)">树图 shutu.cn</text>
<text class="wm" x="470" y="3158" text-anchor="middle" transform="rotate(-29.5 470 3158)">树图 shutu.cn</text>
<text class="wm" x="470" y="3859" text-anchor="middle" transform="rotate(-29.5 470 3859)">树图 shutu.cn</text>
<text class="wm" x="1345" y="379" text-anchor="middle" transform="rotate(-29.5 1345 379)">树图 shutu.cn</text>
<text class="wm" x="1345" y="1081" text-anchor="middle" transform="rotate(-29.5 1345 1081)">树图 shutu.cn</text>
<text class="wm" x="1345" y="1782" text-anchor="middle" transform="rotate(-29.5 1345 1782)">树图 shutu.cn</text>
<text class="wm" x="1345" y="2484" text-anchor="middle" transform="rotate(-29.5 1345 2484)">树图 shutu.cn</text>
<text class="wm" x="1345" y="3186" text-anchor="middle" transform="rotate(-29.5 1345 3186)">树图 shutu.cn</text>
<text class="wm" x="1345" y="3887" text-anchor="middle" transform="rotate(-29.5 1345 3887)">树图 shutu.cn</text>
</g>
</svg>
